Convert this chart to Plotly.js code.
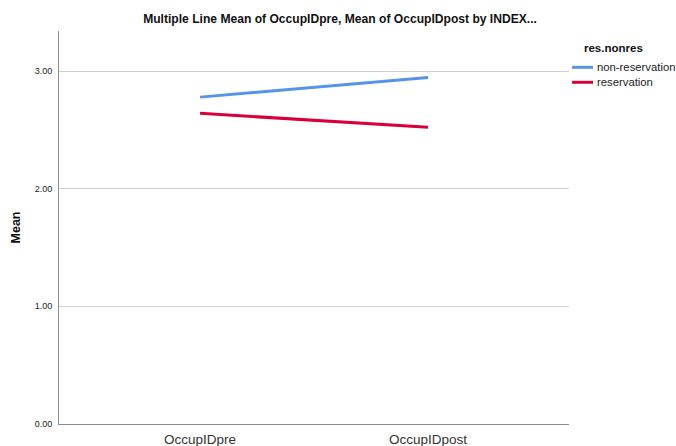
<!DOCTYPE html>
<html>
<head>
<meta charset="utf-8">
<script src="https://cdn.plot.ly/plotly-3.0.1.min.js"></script>
<style>html,body{margin:0;padding:0;background:#fff;}#chart{width:676px;height:446px;}</style>
</head>
<body>
<div id="chart"></div>
<script>
var categories = ["OccupIDpre", "OccupIDpost"];
var seriesNames = ["non-reservation", "reservation"];
var nonReservation = [2.778, 2.945];
var reservation = [2.640, 2.523];
var yTickVals = [0, 1, 2, 3];
var yTickText = ["0.00", "1.00", "2.00", "3.00"];
var legendTitle = "res.nonres";
var colors = ["#5595e6", "#d7003c"];

var seriesValues = [nonReservation, reservation];
var traces = seriesValues.map(function (vals, i) {
  return {
    type: "scatter", mode: "lines", x: categories, y: vals, name: seriesNames[i],
    line: {color: colors[i], width: 3}, showlegend: false, hoverinfo: "skip"
  };
});

var font = "Arial, 'Liberation Sans', sans-serif";
var shapes = [], annotations = [];
var legY = [0.9076, 0.8695];
seriesNames.forEach(function (n, i) {
  shapes.push({type: "line", xref: "paper", yref: "paper", x0: 1.006, x1: 1.047, y0: legY[i], y1: legY[i],
    line: {color: colors[i], width: 3}});
  annotations.push({xref: "paper", yref: "paper", x: 1.050, y: legY[i], xanchor: "left", yanchor: "middle",
    text: n, showarrow: false, font: {family: font, size: 11.3, color: "#222"}});
});
annotations.push({xref: "paper", yref: "paper", x: 1.088, y: 0.957, xanchor: "center", yanchor: "middle",
  text: "<b>" + legendTitle + "</b>", showarrow: false, font: {family: font, size: 11.5, color: "#111"}});

var layout = {
  width: 676, height: 446,
  margin: {l: 59, r: 107, t: 31, b: 22, pad: 0},
  paper_bgcolor: "#fff", plot_bgcolor: "#fff",
  title: {text: "<b>Multiple Line Mean of OccupIDpre, Mean of OccupIDpost by INDEX...</b>",
    x: 0.503, xanchor: "center", y: 0.957, yanchor: "middle",
    font: {family: font, size: 12.1, color: "#111"}},
  xaxis: {type: "category", range: [-0.6186, 1.618], showgrid: false, zeroline: false,
    showline: true, linecolor: "#8c8c8c", linewidth: 1, ticks: "",
    tickfont: {family: font, size: 13.5, color: "#333"}, ticklabelstandoff: 3, fixedrange: true},
  yaxis: {range: [0, 3.34], tickvals: yTickVals, ticktext: yTickText, showgrid: true,
    gridcolor: "#cfcfcf", gridwidth: 1, zeroline: false, showline: true, linecolor: "#8c8c8c",
    linewidth: 1, ticks: "", tickfont: {family: font, size: 9, color: "#222"}, ticklabelstandoff: 4,
    title: {text: "<b>Mean</b>", font: {family: font, size: 12.5, color: "#111"}, standoff: 11},
    fixedrange: true},
  shapes: shapes,
  annotations: annotations,
  showlegend: false
};

Plotly.newPlot("chart", traces, layout, {displayModeBar: false, staticPlot: true});
</script>
</body>
</html>
